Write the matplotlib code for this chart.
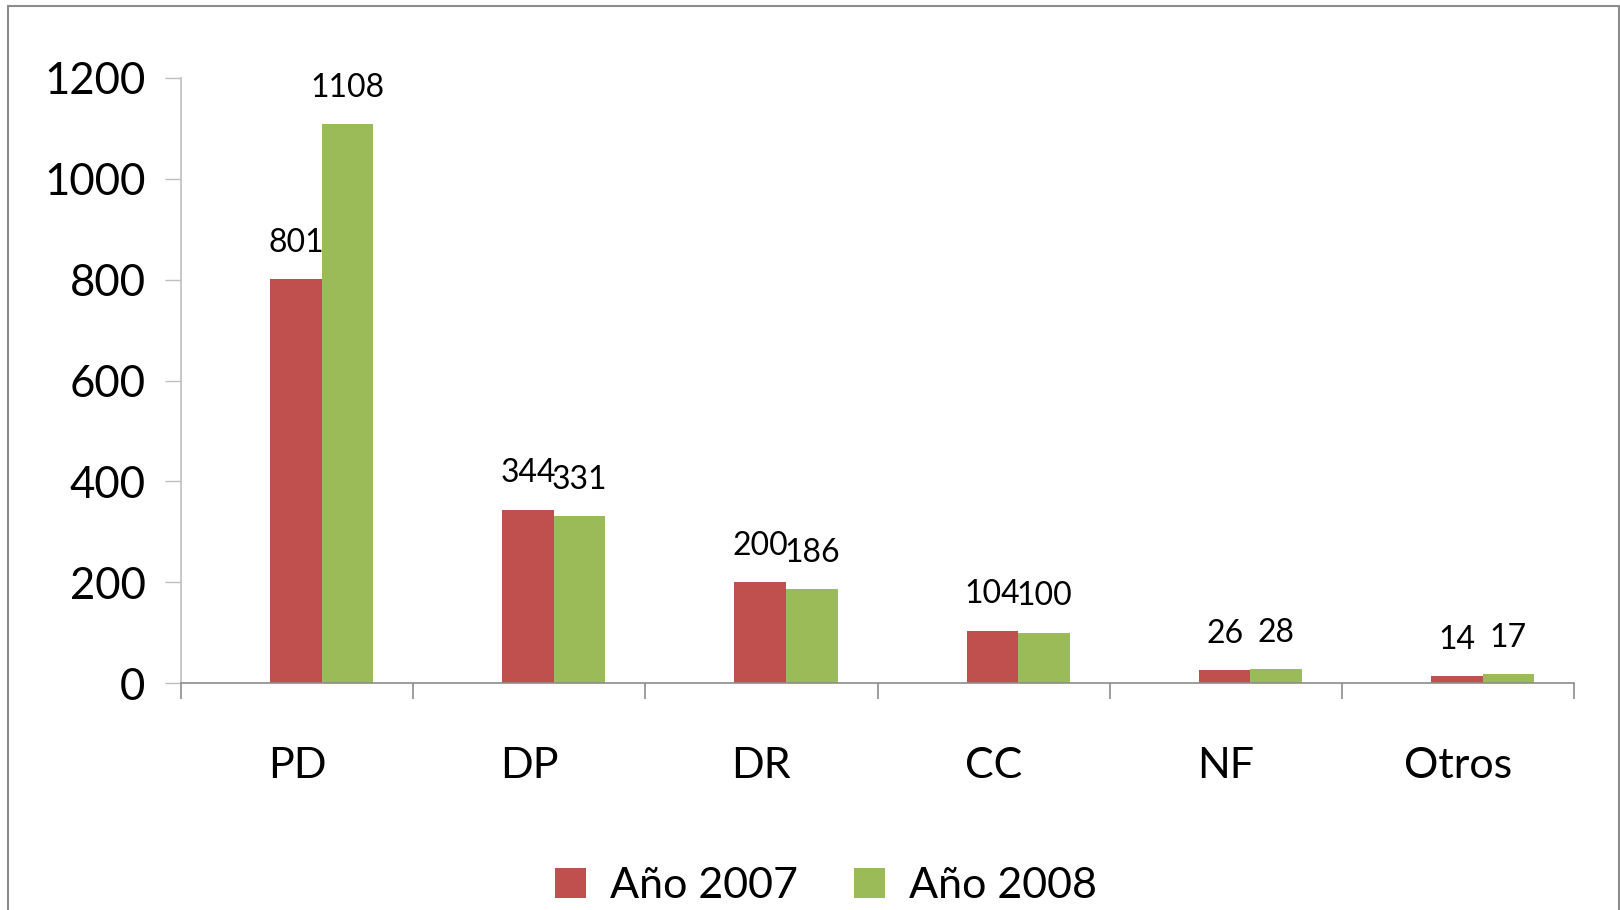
import matplotlib
matplotlib.use("Agg")
import matplotlib.pyplot as plt
from matplotlib.patches import Rectangle
from matplotlib.ticker import FixedLocator, NullFormatter

categories = ["PD", "DP", "DR", "CC", "NF", "Otros"]
values_2007 = [801, 344, 200, 104, 26, 14]
values_2008 = [1108, 331, 186, 100, 28, 17]
series_names = ["Año 2007", "Año 2008"]
yticks = [0, 200, 400, 600, 800, 1000, 1200]

RED = "#C0504D"
GREEN = "#9BBB59"

plt.rcParams['font.family'] = ['Lato', 'DejaVu Sans']

fig = plt.figure(figsize=(16.2, 9.1), dpi=100)
ax = fig.add_axes([181/1620, 1-683/910, (1574-181)/1620, (683-78)/910])

n = len(categories)
xs = list(range(n))
w = 0.222
b1 = ax.bar([x + 0.384 for x in xs], values_2007, width=w, align='edge', color=RED, label=series_names[0])
b2 = ax.bar([x + 0.384 + w for x in xs], values_2008, width=w, align='edge', color=GREEN, label=series_names[1])

for bars in (b1, b2):
    for r in bars:
        ax.annotate(f"{int(r.get_height())}", (r.get_x() + r.get_width()/2, r.get_height()),
                    xytext=(0, 26), textcoords='offset points', ha='center', va='center',
                    fontsize=23)

ax.set_xlim(0, n)
ax.set_ylim(0, 1200)
ax.set_yticks(yticks)
ax.tick_params(axis='y', length=11.5, width=1, color='#bfbfbf', labelsize=31.5, pad=14, direction='out')

ax.xaxis.set_major_locator(FixedLocator(list(range(n + 1))))
ax.xaxis.set_major_formatter(NullFormatter())
ax.xaxis.set_minor_locator(FixedLocator([x + 0.5 for x in xs]))
ax.set_xticklabels(categories, minor=True)
ax.tick_params(axis='x', which='major', length=11.5, width=1.2, color='#8c8c8c', direction='out')
ax.tick_params(axis='x', which='minor', length=0, labelsize=31, pad=46)

for s in ('top', 'right'):
    ax.spines[s].set_visible(False)
ax.spines['left'].set_color('#bfbfbf')
ax.spines['left'].set_linewidth(1.2)
ax.spines['bottom'].set_color('#8c8c8c')
ax.spines['bottom'].set_linewidth(1.2)

fig.legend(handles=[b1, b2], labels=series_names, loc='center',
           bbox_to_anchor=(826/1620, 1-886/910), ncol=2, frameon=False,
           fontsize=31, handlelength=0.72, handleheight=0.72, handletextpad=0.55,
           columnspacing=1.3)

fig.patches.append(Rectangle((8/1620, -0.05), (1619-8)/1620, 1-6/910+0.05,
                             transform=fig.transFigure, fill=False,
                             edgecolor='#8c8c8c', linewidth=1.5))

fig.savefig("out.png", dpi=100)
